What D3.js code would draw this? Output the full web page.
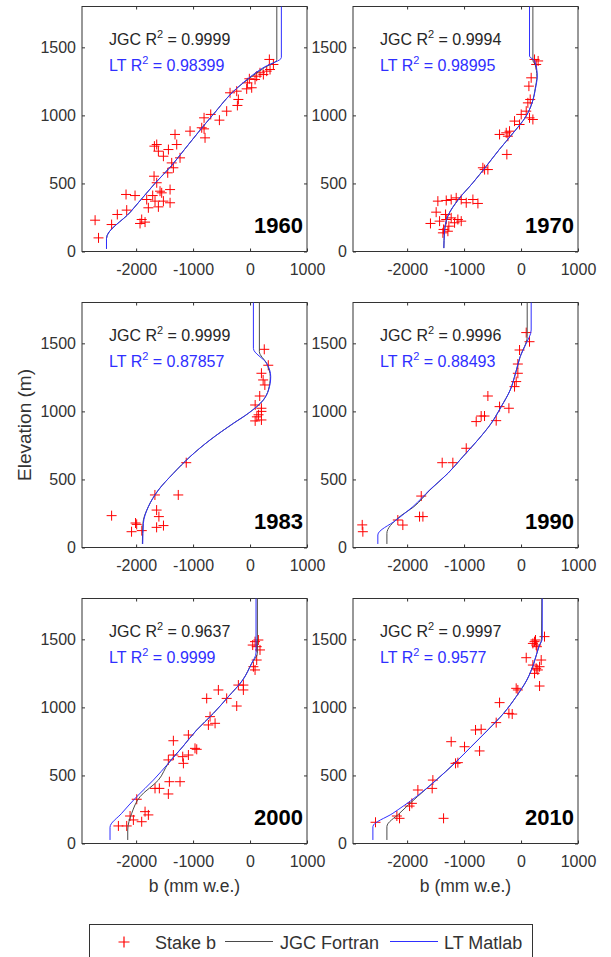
<!DOCTYPE html>
<html>
<head>
<meta charset="utf-8">
<script src="https://cdn.jsdelivr.net/npm/d3@7"></script>
<style>
  body { margin: 0; background: #fff; }
  svg { display: block; font-family: "Liberation Sans", Arial, sans-serif; }
</style>
</head>
<body>
<svg id="chart" width="611" height="957"></svg>
<script>
// values: [b (mm w.e.), elevation (m)]
const years = ["1960", "1970", "1983", "1990", "2000", "2010"];
const jgcR2 = ["0.9999", "0.9994", "0.9999", "0.9996", "0.9637", "0.9997"];
const ltR2 = ["0.98399", "0.98995", "0.87857", "0.88493", "0.9999", "0.9577"];
const xTicks = [-2000, -1000, 0, 1000];
const yTicks = [0, 500, 1000, 1500];

const stakes1960 = [[-2720,230],[-2660,100],[-2430,198],[-2330,272],[-2165,304],[-2177,419],[-2019,411],[-1902,235],[-1931,206],[-1843,216],[-1785,321],[-1814,382],[-1709,411],[-1668,370],[-1580,443],[-1609,328],[-1521,370],[-1551,431],[-1404,455],[-1404,358],[-1685,553],[-1638,505],[-1679,774],[-1609,737],[-1638,786],[-1521,700],[-1433,749],[-1317,860],[-1287,786],[-1229,688],[-1375,651],[-1346,615],[-1445,578],[-1053,884],[-807,982],[-807,901],[-790,835],[-690,1007],[-538,965],[-410,1031],[-848,909],[-351,1166],[-205,1117],[-222,1073],[-234,1178],[-59,1195],[-47,1239],[-12,1269],[29,1203],[88,1264],[117,1288],[175,1313],[234,1300],[293,1325],[339,1411],[351,1337],[410,1374]];
const jgc1960 = [[-2520,20],[-2520,95],[-2100,290],[-1670,500],[-1380,630],[-1150,750],[-660,1000],[-230,1200],[250,1350],[470,1410],[470,1800]];
const lt1960 = [[-2520,20],[-2520,95],[-2100,290],[-1670,500],[-1380,630],[-1150,750],[-660,1000],[-230,1200],[250,1355],[550,1425],[550,1800]];

const stakes1970 = [[-1590,206],[-1490,289],[-1430,223],[-1360,162],[-1313,235],[-1267,186],[-1226,247],[-1167,211],[-1109,235],[-1050,223],[-1372,137],[-1284,149],[-1325,272],[-1460,370],[-1313,375],[-1226,382],[-1138,394],[-1050,382],[-962,358],[-845,382],[-757,353],[-670,615],[-640,602],[-582,602],[-249,713],[-377,860],[-260,872],[-202,884],[-231,847],[-114,958],[-26,933],[3,1007],[91,1031],[149,982],[208,970],[120,1092],[161,1117],[138,1215],[178,1276],[237,1411],[266,1374],[300,1400]];
const jgc1970 = [[-1355,25],[-1345,137],[-1285,260],[-1100,382],[-845,505],[-610,627],[-380,750],[-140,870],[90,995],[200,1100],[250,1200],[278,1287],[250,1370],[208,1405],[208,1800]];
const lt1970 = [[-1355,25],[-1345,137],[-1285,260],[-1100,382],[-845,505],[-610,627],[-380,750],[-140,870],[90,995],[200,1100],[255,1200],[285,1290],[240,1400],[149,1435],[149,1800]];

const stakes1983 = [[-2430,234],[-2080,116],[-2010,180],[-1990,170],[-1900,124],[-1670,386],[-1640,275],[-1600,227],[-1640,148],[-1520,161],[-1260,386],[-1120,623],[90,930],[120,960],[200,937],[90,1047],[200,1023],[170,1113],[200,1280],[230,1231],[260,1194],[250,1456],[320,1339],[150,975],[200,1000]];
const jgc1983 = [[-1890,26],[-1880,178],[-1785,300],[-1609,422],[-1346,545],[-1053,667],[-702,790],[-293,912],[-29,986],[234,1084],[322,1157],[355,1255],[290,1353],[164,1439],[164,1800]];
const lt1983 = [[-1884,26],[-1872,178],[-1785,300],[-1609,422],[-1346,545],[-1053,667],[-702,790],[-293,912],[-29,986],[234,1084],[325,1157],[363,1255],[293,1353],[59,1463],[59,1800]];

const stakes1990 = [[-2788,166],[-2777,116],[-2163,202],[-2075,165],[-1782,227],[-1723,227],[-1752,378],[-1384,623],[-1197,623],[-962,729],[-787,925],[-700,966],[-641,966],[-582,1113],[-436,932],[-377,1035],[-213,1023],[-114,1182],[-85,1219],[-56,1280],[-56,1348],[-26,1451],[91,1579],[149,1512]];
const jgc1990 = [[-2355,26],[-2355,104],[-2150,220],[-1880,300],[-1600,422],[-1284,545],[-1021,667],[-758,790],[-524,912],[-348,1035],[-190,1157],[-97,1280],[-15,1402],[108,1549],[108,1800]];
const lt1990 = [[-2514,26],[-2514,92],[-2191,202],[-1899,300],[-1606,422],[-1284,545],[-1021,667],[-758,790],[-524,912],[-348,1035],[-190,1157],[-97,1280],[-15,1402],[80,1490],[178,1598],[178,1800]];

const stakes2000 = [[-2311,129],[-2165,129],[-2106,202],[-2048,173],[-1902,160],[-1989,325],[-1843,234],[-1785,210],[-1668,405],[-1592,405],[-1434,364],[-1416,454],[-1229,454],[-1434,614],[-1346,650],[-1346,755],[-1182,638],[-1170,589],[-1082,650],[-1082,797],[-966,699],[-936,692],[-761,1066],[-556,1128],[-702,932],[-731,871],[-614,883],[-410,1066],[-234,1010],[-205,1164],[-117,1164],[-117,1128],[59,1299],[88,1275],[117,1348],[47,1458],[88,1483],[146,1495],[175,1422],[117,1446]];
const jgc2000 = [[-2147,26],[-2147,99],[-2077,222],[-1931,344],[-1609,466],[-1434,589],[-1182,711],[-936,834],[-644,956],[-380,1079],[-129,1201],[29,1324],[129,1397],[129,1800]];
const lt2000 = [[-2458,26],[-2458,119],[-2253,222],[-1989,344],[-1697,466],[-1434,589],[-1182,711],[-936,834],[-644,956],[-380,1079],[-129,1201],[29,1324],[105,1400],[105,1800]];

const stakes2010 = [[-2555,156],[-2180,202],[-2133,185],[-1957,275],[-1916,295],[-1811,393],[-1548,466],[-1560,405],[-1360,185],[-1226,748],[-1150,589],[-1109,594],[-992,711],[-728,680],[-799,834],[-700,839],[-436,888],[-377,1035],[-213,956],[-155,951],[-85,1140],[-56,1128],[91,1365],[208,1311],[237,1250],[266,1287],[295,1275],[325,1299],[354,1348],[325,1157],[208,1470],[237,1483],[266,1458],[278,1446],[254,1495],[412,1520]];
const jgc2010 = [[-2355,26],[-2355,124],[-2133,222],[-1820,344],[-1489,466],[-1167,589],[-875,711],[-582,834],[-307,956],[-85,1079],[102,1201],[225,1324],[313,1446],[360,1500],[365,1800]];
const lt2010 = [[-2601,26],[-2601,124],[-2250,222],[-1840,344],[-1489,466],[-1167,589],[-875,711],[-582,834],[-307,956],[-85,1079],[102,1201],[225,1324],[313,1446],[372,1507],[372,1800]];

const stakes = [stakes1960, stakes1970, stakes1983, stakes1990, stakes2000, stakes2010];
const jgcCurves = [jgc1960, jgc1970, jgc1983, jgc1990, jgc2000, jgc2010];
const ltCurves = [lt1960, lt1970, lt1983, lt1990, lt2000, lt2010];

const svg = d3.select("#chart");
const axisColor = "#333";
const jgcColor = "#4a4a4a";
const ltColor = "#2f2fff";
const colLeft = [82, 353];
const rowTop = [6.5, 302.5, 598.5];
const w = 225, h = 245;

const x = d3.scaleLinear().domain([-2950, 1000]).range([0, w]);
const y = d3.scaleLinear().domain([0, 1800]).range([h, 0]);
const fmt = d => String(d);   // plain hyphen, no thousands comma

const line = d3.line()
    .x(d => x(d[0]))
    .y(d => y(d[1]))
    .curve(d3.curveMonotoneY);

years.forEach((yr, i) => {
    const col = i % 2, row = Math.floor(i / 2);
    const g = svg.append("g")
        .attr("transform", `translate(${colLeft[col]},${rowTop[row]})`);

    // axes (ticks inside, box on)
    const bottom = g.append("g").attr("transform", `translate(0,${h})`)
        .call(d3.axisBottom(x).tickValues(xTicks).tickFormat(fmt).tickSize(-3).tickPadding(12));
    const left = g.append("g")
        .call(d3.axisLeft(y).tickValues(yTicks).tickFormat(fmt).tickSize(-3).tickPadding(6));
    const top = g.append("g")
        .call(d3.axisTop(x).tickValues(xTicks).tickSize(-3).tickFormat(""));
    const right = g.append("g").attr("transform", `translate(${w},0)`)
        .call(d3.axisRight(y).tickValues(yTicks).tickSize(-3).tickFormat(""));
    [bottom, left, top, right].forEach(a => {
        a.select(".domain").remove();
        a.selectAll("line").attr("stroke", axisColor);
        a.selectAll("text").attr("fill", axisColor)
            .style("font-size", "16px").style("font-family", "Liberation Sans, Arial, sans-serif");
    });

    g.append("rect")
        .attr("width", w).attr("height", h)
        .attr("fill", "none").attr("stroke", axisColor).attr("stroke-width", 1);

    // stake measurements
    g.selectAll(".stake").data(stakes[i]).enter().append("path")
        .attr("class", "stake")
        .attr("transform", d => `translate(${x(d[0])},${y(d[1])})`)
        .attr("d", "M-5,0H5M0,-5V5")
        .attr("stroke", "#ff0000").attr("stroke-width", 1).attr("fill", "none");

    g.append("path").datum(jgcCurves[i])
        .attr("d", line)
        .attr("fill", "none").attr("stroke", jgcColor).attr("stroke-width", 1);
    g.append("path").datum(ltCurves[i])
        .attr("d", line)
        .attr("fill", "none").attr("stroke", ltColor).attr("stroke-width", 1);

    // R² annotations
    const t1 = g.append("text").attr("x", 27).attr("y", 38)
        .attr("fill", "#262626").style("font-size", "16px");
    t1.append("tspan").text("JGC R");
    t1.append("tspan").attr("dy", -7).style("font-size", "11px").text("2");
    t1.append("tspan").attr("dy", 7).text(" = " + jgcR2[i]);

    const t2 = g.append("text").attr("x", 27).attr("y", 64)
        .attr("fill", ltColor).style("font-size", "16px");
    t2.append("tspan").text("LT R");
    t2.append("tspan").attr("dy", -7).style("font-size", "11px").text("2");
    t2.append("tspan").attr("dy", 7).text(" = " + ltR2[i]);

    g.append("text")
        .attr("x", w - 4).attr("y", h - 19)
        .attr("text-anchor", "end")
        .attr("fill", "#000")
        .style("font-size", "22px").style("font-weight", "bold")
        .text(yr);

    if (row === 2) {
        g.append("text")
            .attr("x", w / 2).attr("y", h + 48)
            .attr("text-anchor", "middle")
            .attr("fill", axisColor)
            .style("font-size", "17.5px")
            .text("b (mm w.e.)");
    }
});

svg.append("text")
    .attr("transform", "translate(31,425) rotate(-90)")
    .attr("text-anchor", "middle")
    .attr("fill", axisColor)
    .style("font-size", "19px")
    .text("Elevation (m)");

// legend
const legend = svg.append("g");
legend.append("rect")
    .attr("x", 89.5).attr("y", 924.5)
    .attr("width", 443).attr("height", 50)
    .attr("fill", "#fff").attr("stroke", axisColor);

const legendItems = [
    { label: "Stake b", type: "plus", color: "#ff0000", x0: 124, tx: 155 },
    { label: "JGC Fortran", type: "line", color: jgcColor, x0: 225, tx: 280 },
    { label: "LT Matlab", type: "line", color: ltColor, x0: 390, tx: 444 }
];
legendItems.forEach(it => {
    if (it.type === "plus") {
        legend.append("path")
            .attr("transform", `translate(${it.x0},942)`)
            .attr("d", "M-5.5,0H5.5M0,-5.5V5.5")
            .attr("stroke", it.color).attr("stroke-width", 1.2);
    } else {
        legend.append("line")
            .attr("x1", it.x0).attr("x2", it.x0 + 48)
            .attr("y1", 941.5).attr("y2", 941.5)
            .attr("stroke", it.color).attr("stroke-width", 1.2);
    }
    legend.append("text")
        .attr("x", it.tx).attr("y", 949)
        .attr("fill", axisColor)
        .style("font-size", "18px")
        .text(it.label);
});
</script>
</body>
</html>
